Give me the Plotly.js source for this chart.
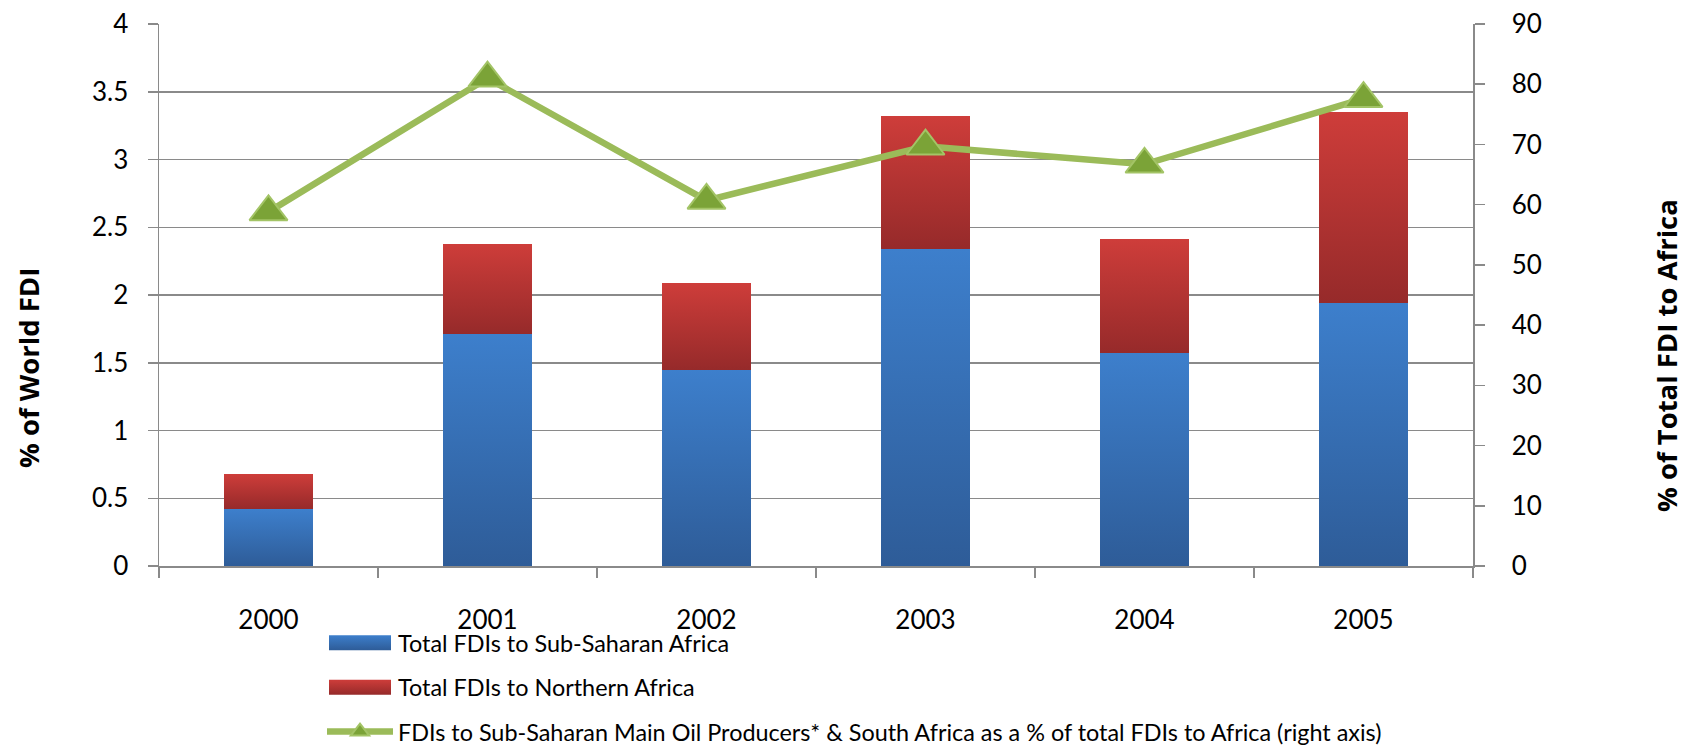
<!DOCTYPE html>
<html>
<head>
<meta charset="utf-8">
<script src="https://cdn.plot.ly/plotly-3.0.1.min.js"></script>
<style>
  html, body { margin: 0; padding: 0; background: #ffffff; }
  #chart { width: 1686px; height: 750px; }
</style>
</head>
<body>
<div id="chart"></div>
<script>
// ---- data ----
const years = ['2000', '2001', '2002', '2003', '2004', '2005'];
const subSaharanFDI = [0.42, 1.71, 1.45, 2.34, 1.57, 1.94];   // % of world FDI
const northernFDI   = [0.26, 0.67, 0.64, 0.98, 0.84, 1.41];   // % of world FDI
const oilProducersShare = [58.8, 81.0, 60.7, 69.7, 66.7, 77.6]; // % of total FDI to Africa (right axis)

const seriesNames = [
  'Total FDIs to Sub-Saharan Africa',
  'Total FDIs to Northern Africa',
  'FDIs to Sub-Saharan Main Oil Producers* & South Africa as a % of total FDIs to Africa (right axis)'
];

const leftTicks = [0, 0.5, 1, 1.5, 2, 2.5, 3, 3.5, 4];
const rightTicks = [0, 10, 20, 30, 40, 50, 60, 70, 80, 90];

const gridGray = '#8a8a8a';
const fontFam = 'Lato, "Open Sans", Arial, sans-serif';
const titleFam = '"Open Sans", Lato, sans-serif';

const traces = [
  {
    type: 'bar', name: seriesNames[0], x: years, y: subSaharanFDI,
    marker: { color: '#3670B8', line: { width: 0 } },
    width: 0.41, legendgroup: 'a', hoverinfo: 'skip'
  },
  {
    type: 'bar', name: seriesNames[1], x: years, y: northernFDI,
    marker: { color: '#B83432', line: { width: 0 } },
    width: 0.41, legendgroup: 'b', hoverinfo: 'skip'
  },
  {
    type: 'scatter', mode: 'lines+markers', name: seriesNames[2], x: years, y: oilProducersShare,
    yaxis: 'y2',
    line: { color: '#9BBB59', width: 6.5 },
    marker: { symbol: 'triangle-up', size: 33, color: '#7BA337', line: { color: '#A3C466', width: 2 } },
    legendgroup: 'c', hoverinfo: 'skip'
  }
];

const layout = {
  width: 1686, height: 750,
  paper_bgcolor: '#ffffff', plot_bgcolor: '#ffffff',
  margin: { l: 159, r: 213, t: 24, b: 184, autoexpand: false },
  barmode: 'stack',
  font: { family: fontFam, color: '#000000', size: 26 },
  showlegend: true,
  legend: {
    xref: 'container', yref: 'container',
    x: 322 / 1686, y: 1 - 621 / 750, xanchor: 'left', yanchor: 'top',
    traceorder: 'grouped', tracegroupgap: 11,
    font: { family: fontFam, size: 23.4, color: '#000000' },
    itemwidth: 66, bgcolor: 'rgba(0,0,0,0)'
  },
  xaxis: {
    type: 'category', range: [-0.5, 5.5],
    showline: true, linecolor: gridGray, linewidth: 2,
    ticks: 'outside', tickson: 'boundaries', ticklen: 10, tickcolor: gridGray, tickwidth: 1.5,
    ticklabelstandoff: 30, tickangle: 0,
    showgrid: false, zeroline: false,
    tickfont: { family: fontFam, size: 26, color: '#000000' }
  },
  yaxis: {
    range: [0, 4], tickvals: leftTicks, ticktext: leftTicks.map(String),
    showline: true, linecolor: gridGray, linewidth: 1.5,
    ticks: 'outside', ticklen: 10, tickcolor: gridGray, tickwidth: 1.5,
    ticklabelstandoff: 14,
    showgrid: true, gridcolor: gridGray, gridwidth: 1.5, zeroline: false,
    tickfont: { family: fontFam, size: 26, color: '#000000' }
  },
  yaxis2: {
    range: [0, 90], tickvals: rightTicks, ticktext: rightTicks.map(String),
    overlaying: 'y', side: 'right',
    showline: true, linecolor: gridGray, linewidth: 1.5,
    ticks: 'outside', ticklen: 10, tickcolor: gridGray, tickwidth: 1.5,
    ticklabelstandoff: 22,
    showgrid: false, zeroline: false,
    tickfont: { family: fontFam, size: 26, color: '#000000' }
  },
  yaxis3: {
    range: [0, 90], tickvals: rightTicks, overlaying: 'y', side: 'right',
    showline: false, ticks: 'inside', ticklen: 10, tickcolor: gridGray, tickwidth: 1.5,
    showticklabels: false, showgrid: false, zeroline: false
  },
  annotations: [
    {
      text: '<b>% of World FDI</b>', xref: 'paper', yref: 'paper',
      x: (28 - 159) / 1314, y: (566 - 368) / 542, textangle: -90,
      showarrow: false, xanchor: 'center', yanchor: 'middle',
      font: { family: titleFam, size: 27.5, color: '#000000' }
    },
    {
      text: '<b>% of Total FDI to Africa</b>', xref: 'paper', yref: 'paper',
      x: (1667 - 159) / 1314, y: (566 - 356) / 542, textangle: -90,
      showarrow: false, xanchor: 'center', yanchor: 'middle',
      font: { family: titleFam, size: 27.5, color: '#000000' }
    }
  ]
};

function addGradients(gd) {
  const ns = 'http://www.w3.org/2000/svg';
  const svg = gd.querySelector('.main-svg');
  let defs = svg.querySelector('defs');
  if (!defs) { defs = document.createElementNS(ns, 'defs'); svg.insertBefore(defs, svg.firstChild); }
  function grad(id, c1, c2) {
    const g = document.createElementNS(ns, 'linearGradient');
    g.setAttribute('id', id);
    g.setAttribute('x1', '0'); g.setAttribute('y1', '0');
    g.setAttribute('x2', '0'); g.setAttribute('y2', '1');
    [[0, c1], [1, c2]].forEach(function (p) {
      const s = document.createElementNS(ns, 'stop');
      s.setAttribute('offset', p[0]); s.setAttribute('stop-color', p[1]);
      g.appendChild(s);
    });
    defs.appendChild(g);
  }
  grad('gradBlue', '#3D7FCC', '#2E5C98');
  grad('gradRed', '#CE3D3A', '#962A2A');
  const fills = ['url(#gradBlue)', 'url(#gradRed)'];
  const barTraces = gd.querySelectorAll('.barlayer .trace');
  barTraces.forEach(function (t, i) {
    if (i > 1) return;
    t.querySelectorAll('path').forEach(function (p) { p.style.fill = fills[i]; });
  });
  const legTraces = gd.querySelectorAll('.legend .traces');
  legTraces.forEach(function (t, i) {
    if (i > 1) return;
    t.querySelectorAll('.legendpoints path').forEach(function (p) {
      p.style.fill = fills[i];
      p.setAttribute('d', 'M31,7.5H-31V-7.5H31Z');
    });
  });
}

Plotly.newPlot('chart', traces, layout, { staticPlot: true, displayModeBar: false })
  .then(addGradients);
</script>
</body>
</html>
